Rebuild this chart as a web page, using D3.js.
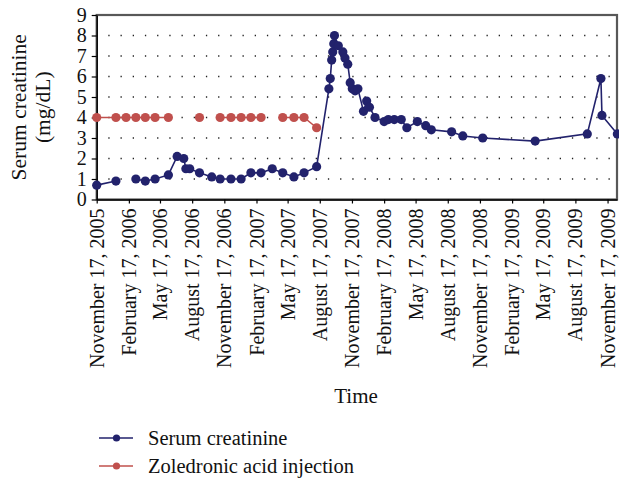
<!DOCTYPE html>
<html>
<head>
<meta charset="utf-8">
<script src="https://cdn.jsdelivr.net/npm/d3@7"></script>
<style>
  html, body { margin: 0; padding: 0; background: #fff; }
  svg { display: block; }
  text { font-family: "Liberation Serif", "Times New Roman", serif; fill: #111; }
</style>
</head>
<body>
<svg id="chart" width="619" height="479"></svg>
<script>
// ---- data ----
const dates = [
  "2005-11-17","2006-01-11","2006-02-09","2006-03-09","2006-04-05","2006-05-03","2006-06-10",
  "2006-07-05","2006-07-24","2006-07-30","2006-08-10","2006-09-07","2006-10-12","2006-11-05",
  "2006-12-06","2007-01-04","2007-02-01","2007-03-02","2007-04-03","2007-05-03","2007-06-04",
  "2007-07-03","2007-08-08","2007-09-12","2007-09-16","2007-09-20","2007-09-23","2007-09-26",
  "2007-09-28","2007-10-09","2007-10-22","2007-10-28","2007-11-05","2007-11-12","2007-11-18",
  "2007-11-26","2007-12-04","2007-12-20","2007-12-29","2008-01-06","2008-01-22","2008-02-17",
  "2008-02-29","2008-03-17","2008-04-06","2008-04-22","2008-05-22","2008-06-15","2008-07-01",
  "2008-08-28","2008-09-29","2008-11-25","2009-04-24","2009-09-20","2009-10-29","2009-11-01",
  "2009-12-15"
];
const serumCreatinine = [
  0.7, 0.9, null, 1.0, 0.9, 1.0, 1.2,
  2.1, 2.0, 1.5, 1.5, 1.3, 1.1, 1.0,
  1.0, 1.0, 1.3, 1.3, 1.5, 1.3, 1.1,
  1.3, 1.6, 5.4, 5.9, 6.8, 7.2, 7.6,
  8.0, 7.5, 7.2, 6.9, 6.6, 5.7, 5.4,
  5.3, 5.4, 4.3, 4.8, 4.5, 4.0, 3.8,
  3.9, 3.9, 3.9, 3.5, 3.8, 3.6, 3.4,
  3.3, 3.1, 3.0, 2.85, 3.2, 5.9, 4.1,
  3.2
];
const zoledronicInjection = [
  4, 4, 4, 4, 4, 4, 4,
  null, null, null, null, 4, null, 4,
  4, 4, 4, 4, null, 4, 4,
  4, 3.5, null, null, null, null, null,
  null, null, null, null, null, null, null,
  null, null, null, null, null, null, null,
  null, null, null, null, null, null, null,
  null, null, null, null, null, null, null,
  null
];
const xTickDates = [
  "2005-11-17","2006-02-17","2006-05-17","2006-08-17","2006-11-17","2007-02-17",
  "2007-05-17","2007-08-17","2007-11-17","2008-02-17","2008-05-17","2008-08-17",
  "2008-11-17","2009-02-17","2009-05-17","2009-08-17","2009-11-17"
];
const xDomain = ["2005-11-17", "2009-12-14"];
const yTicks = [0,1,2,3,4,5,6,7,8,9];
const seriesNames = ["Serum creatinine", "Zoledronic acid injection"];
const seriesColors = ["#22226c", "#c0504d"];

// ---- drawing ----
(function () {
const parse = d3.utcParse("%Y-%m-%d");
const fmt = d3.utcFormat("%B %-d, %Y");
const svg = d3.select("#chart");

const pLeft = 96.7, pRight = 617, pTop = 15, pBottom = 199.5;
const x = d3.scaleUtc().domain(xDomain.map(parse)).range([pLeft, pRight]);
const y = d3.scaleLinear().domain([0, 9]).range([pBottom, pTop]);

const rows = dates.map((d, i) => ({ date: parse(d), a: serumCreatinine[i], b: zoledronicInjection[i] }));

// gridlines (dotted)
svg.append("g").selectAll("line")
  .data(yTicks.filter(v => v > 0 && v < 9))
  .join("line")
  .attr("x1", pLeft).attr("x2", pRight)
  .attr("y1", d => y(d)).attr("y2", d => y(d))
  .attr("stroke", "#222").attr("stroke-width", 1.3)
  .attr("stroke-dasharray", "1.3,10.9").attr("stroke-dashoffset", 0.6);

// plot frame
svg.append("rect")
  .attr("x", pLeft).attr("y", pTop)
  .attr("width", pRight - pLeft).attr("height", pBottom - pTop)
  .attr("fill", "none").attr("stroke", "#585858").attr("stroke-width", 2.2);

// axes
const xAxis = svg.append("g").attr("transform", `translate(0,${pBottom})`)
  .call(d3.axisBottom(x).tickValues(xTickDates.map(parse)).tickFormat(fmt).tickSize(4).tickSizeOuter(0));
xAxis.select(".domain").attr("stroke", "#000").attr("stroke-width", 1.4);
xAxis.selectAll(".tick line").attr("stroke", "#000").attr("stroke-width", 1.2);
xAxis.selectAll(".tick text")
  .attr("transform", "rotate(-90)")
  .attr("text-anchor", "end")
  .attr("x", -9).attr("y", 0).attr("dy", "0.33em")
  .style("font-size", "20px").style("font-family", "'Liberation Serif', serif").attr("fill", "#111");

const yAxis = svg.append("g").attr("transform", `translate(${pLeft},0)`)
  .call(d3.axisLeft(y).tickValues(yTicks).tickSize(5).tickPadding(5).tickSizeOuter(0));
yAxis.select(".domain").attr("stroke", "#000").attr("stroke-width", 1.4);
yAxis.selectAll(".tick line").attr("stroke", "#000").attr("stroke-width", 1.2);
yAxis.selectAll(".tick text")
  .style("font-size", "20px").style("font-family", "'Liberation Serif', serif").attr("fill", "#111");

// axis titles
const yt = svg.append("text")
  .attr("transform", `translate(0,${(pTop + pBottom) / 2}) rotate(-90)`)
  .attr("text-anchor", "middle").style("font-size", "21.5px");
yt.append("tspan").attr("x", 0).attr("y", 25.5).text("Serum creatinine");
yt.append("tspan").attr("x", 0).attr("y", 49.5).text("(mg/dL)");

svg.append("text").attr("x", 356).attr("y", 403)
  .attr("text-anchor", "middle").style("font-size", "21px").text("Time");

// series
const keys = ["a", "b"];
keys.forEach((k, i) => {
  const line = d3.line().defined(d => d[k] != null).x(d => x(d.date)).y(d => y(d[k]));
  svg.append("path").datum(rows).attr("d", line)
    .attr("fill", "none").attr("stroke", seriesColors[i]).attr("stroke-width", 1.6);
  svg.append("g").selectAll("circle")
    .data(rows.filter(d => d[k] != null))
    .join("circle")
    .attr("cx", d => x(d.date)).attr("cy", d => y(d[k]))
    .attr("r", 4.6).attr("fill", seriesColors[i]);
});

// legend
const lg = svg.append("g");
seriesNames.forEach((name, i) => {
  const ly = 438 + i * 28;
  lg.append("line").attr("x1", 99).attr("x2", 133).attr("y1", ly).attr("y2", ly)
    .attr("stroke", seriesColors[i]).attr("stroke-width", 1.6);
  lg.append("circle").attr("cx", 116.5).attr("cy", ly).attr("r", 3.6).attr("fill", seriesColors[i]);
  lg.append("text").attr("x", 148).attr("y", ly + 7).style("font-size", "20.5px").text(name);
});
})();
</script>
</body>
</html>
